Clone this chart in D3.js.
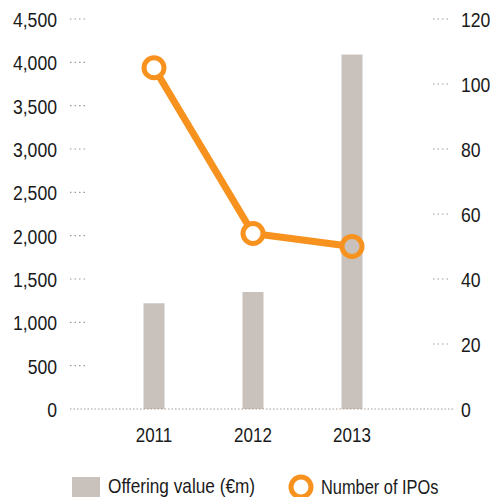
<!DOCTYPE html>
<html><head><meta charset="utf-8">
<script src="https://cdn.jsdelivr.net/npm/d3@7"></script>
<style>
body{margin:0;background:#fff;}
text{font-family:"Liberation Sans",Arial,sans-serif;fill:#1a1a1a;}
</style></head>
<body><svg id="c" width="493" height="497"></svg>
<script>
const years = ["2011","2012","2013"];
const offeringValue = [1220, 1350, 4090];
const ipoCount = [105, 54, 50];
const leftTicks = [0,500,1000,1500,2000,2500,3000,3500,4000,4500];
const rightTicks = [0,20,40,60,80,100,120];

const svg = d3.select("#c");
const x = d3.scalePoint().domain(years).range([154,352]);
const yL = d3.scaleLinear().domain([0,4500]).range([409,19]);
const yR = d3.scaleLinear().domain([0,120]).range([409,19]);
const orange = "#f7921e", barCol = "#c9c2bc";

function narrow(sel, k){
  sel.each(function(){
    const w = this.getComputedTextLength();
    d3.select(this).attr("textLength", w*k).attr("lengthAdjust","spacingAndGlyphs");
  });
  return sel;
}

// axes
const la = svg.append("g");
leftTicks.forEach(t=>{
  narrow(la.append("text").attr("x",57).attr("y",yL(t)).attr("dy","0.4em").attr("text-anchor","end")
    .attr("font-size",20).text(d3.format(",")(t)), 0.88);
  if(t>0) la.append("line").attr("x1",70).attr("x2",88).attr("y1",yL(t)).attr("y2",yL(t))
    .attr("stroke","#9a9a9a").attr("stroke-width",1.2).attr("stroke-dasharray","1.5,3");
});
rightTicks.forEach(t=>{
  narrow(la.append("text").attr("x",461).attr("y",yR(t)).attr("dy","0.4em").attr("text-anchor","start")
    .attr("font-size",20).text(t), 0.88);
  if(t>0) la.append("line").attr("x1",433).attr("x2",451).attr("y1",yR(t)).attr("y2",yR(t))
    .attr("stroke","#a89c94").attr("stroke-width",1.2).attr("stroke-dasharray","1.5,3");
});

// bars
svg.selectAll("rect.bar").data(offeringValue).enter().append("rect").attr("class","bar")
  .attr("x",(d,i)=>x(years[i])-10.5).attr("width",21)
  .attr("y",d=>yL(d)).attr("height",d=>yL(0)-yL(d)).attr("fill",barCol);

// baseline
svg.append("line").attr("x1",70).attr("x2",453).attr("y1",409).attr("y2",409)
  .attr("stroke","#a89c94").attr("stroke-width",1.2).attr("stroke-dasharray","1.5,2");

// x labels
years.forEach(y=>{
  narrow(svg.append("text").attr("x",x(y)).attr("y",442).attr("text-anchor","middle")
    .attr("font-size",20).text(y), 0.85);
});

// mask for line
const r = 10;
const defs = svg.append("defs");
const mask = defs.append("mask").attr("id","m").attr("maskUnits","userSpaceOnUse")
  .attr("x",0).attr("y",0).attr("width",493).attr("height",497);
mask.append("rect").attr("width",493).attr("height",497).attr("fill","#fff");
ipoCount.forEach((d,i)=>mask.append("circle").attr("cx",x(years[i])).attr("cy",yR(d)).attr("r",r).attr("fill","#000"));

svg.append("path").datum(ipoCount)
  .attr("d",d3.line().x((d,i)=>x(years[i])).y(d=>yR(d)))
  .attr("fill","none").attr("stroke",orange).attr("stroke-width",7).attr("mask","url(#m)");

svg.selectAll("circle.pt").data(ipoCount).enter().append("circle").attr("class","pt")
  .attr("cx",(d,i)=>x(years[i])).attr("cy",d=>yR(d)).attr("r",r)
  .attr("fill","none").attr("stroke",orange).attr("stroke-width",5);

// legend
svg.append("rect").attr("x",72).attr("y",477).attr("width",28).attr("height",25).attr("fill",barCol);
narrow(svg.append("text").attr("x",108).attr("y",493).attr("font-size",21).text("Offering value (€m)"), 0.82);
svg.append("circle").attr("cx",301).attr("cy",487).attr("r",10).attr("fill","none").attr("stroke",orange).attr("stroke-width",5);
narrow(svg.append("text").attr("x",321).attr("y",494).attr("font-size",21).text("Number of IPOs"), 0.78);
</script></body></html>
